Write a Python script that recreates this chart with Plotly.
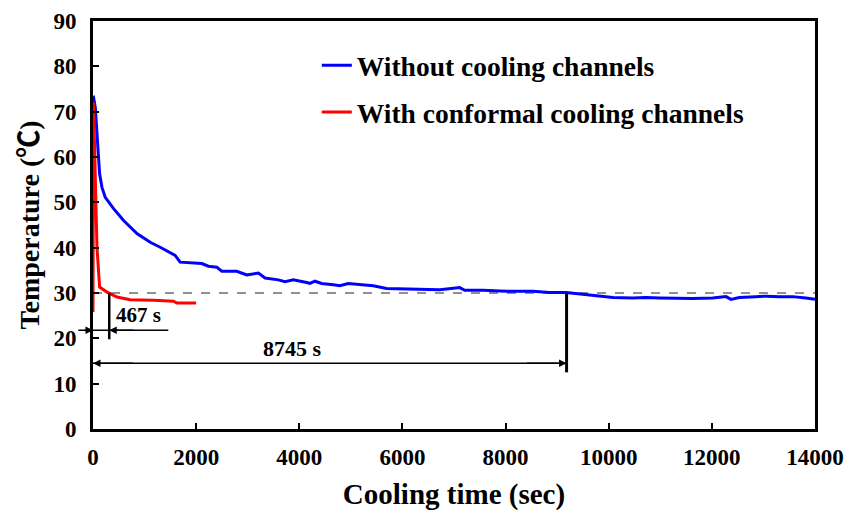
import plotly.graph_objects as go

# ---- data ----
t_without = [0, 12, 45, 89, 128, 174, 238, 399, 593, 852, 1109, 1303, 1593, 1690, 1948, 2110,
             2238, 2400, 2497, 2788, 2982, 3207, 3336, 3594, 3723, 3884, 4143, 4207, 4304, 4434,
             4659, 4788, 4949, 5175, 5433, 5692, 5950, 6337, 6724, 7111, 7208, 7563, 8015, 8531,
             8854, 9177, 9499, 9822, 10080, 10467, 10726, 10984, 11307, 11628, 12015, 12274,
             12371, 12532, 12855, 13049, 13307, 13565, 13823, 13952, 14000]
temp_without = [73.0, 73.1, 70.9, 62.1, 56.3, 53.3, 51.1, 48.6, 46.0, 43.1, 41.2, 40.1, 38.3, 36.8,
                36.6, 36.5, 35.9, 35.7, 34.8, 34.8, 34.0, 34.4, 33.3, 32.9, 32.5, 32.9, 32.3, 32.1,
                32.6, 32.1, 31.8, 31.6, 32.1, 31.8, 31.6, 31.0, 30.9, 30.7, 30.7, 31.2, 30.6, 30.6,
                30.4, 30.4, 30.1, 30.1, 29.7, 29.4, 29.0, 28.9, 29.0, 28.9, 28.8, 28.8, 28.9, 29.2,
                28.6, 29.0, 29.2, 29.3, 29.2, 29.2, 28.9, 28.6, 28.6]

t_with = [0, 10, 31, 77, 128, 271, 465, 722, 1173, 1561, 1626, 2000]
temp_with = [25.8, 72.0, 62.1, 40.1, 31.3, 30.2, 29.1, 28.5, 28.4, 28.2, 27.8, 27.8]

series_names = ["Without cooling channels", "With conformal cooling channels"]
series_colors = ["#0000FF", "#FF0000"]

x_range = [0, 14000]
y_range = [0, 90]
x_ticks = [0, 2000, 4000, 6000, 8000, 10000, 12000, 14000]
y_ticks = [0, 10, 20, 30, 40, 50, 60, 70, 80, 90]

ref_temp = 30           # dashed reference level
t_cross_with = 315      # where the conformal curve reaches 30 (drawn position)
t_cross_without = 9183  # where the plain curve reaches 30 (drawn position)
label_with = "467 s"
label_without = "8745 s"

FONT = "Liberation Serif, Times New Roman, serif"
CJK = "Noto Sans CJK SC"

fig = go.Figure()
fig.add_trace(go.Scatter(x=t_without, y=temp_without, mode="lines", name=series_names[0],
                         line=dict(color=series_colors[0], width=3), legendgroup="a"))
fig.add_trace(go.Scatter(x=t_with, y=temp_with, mode="lines", name=series_names[1],
                         line=dict(color=series_colors[1], width=3), legendgroup="b"))

# dashed 30 line
fig.add_shape(type="line", xref="x", yref="y", x0=x_range[0], x1=x_range[1], y0=ref_temp, y1=ref_temp,
              line=dict(color="#222222", width=1, dash="dash"), layer="below")

# vertical markers
fig.add_shape(type="line", xref="x", yref="y", x0=t_cross_with, x1=t_cross_with, y0=ref_temp, y1=19.8,
              line=dict(color="black", width=2.5))
fig.add_shape(type="line", xref="x", yref="y", x0=t_cross_without, x1=t_cross_without, y0=ref_temp, y1=12.5,
              line=dict(color="black", width=3))

span = x_range[1] - x_range[0]


def arrow_head(xh, y, xt):
    fig.add_annotation(x=xh, y=y, ax=xt, ay=y, xref="x", yref="y", axref="x", ayref="y",
                       text="", showarrow=True, arrowhead=2, arrowsize=1, arrowwidth=1.5,
                       arrowcolor="black", standoff=0, startstandoff=0)


# 467 s dimension: outside arrows (line continues past the axis, so paper coords)
y467 = 21.8
x467_left, x467_right = -285, 1460
fig.add_shape(type="line", xref="paper", yref="y", x0=x467_left / span, x1=x467_right / span,
              y0=y467, y1=y467, line=dict(color="black", width=1.5))
arrow_head(0, y467, -200)
arrow_head(t_cross_with, y467, t_cross_with + 500)
fig.add_annotation(x=877, y=25.1, xref="x", yref="y", text="<b>" + label_with + "</b>", showarrow=False,
                   font=dict(family=FONT, size=21, color="black"))

# 8745 s dimension
y8745 = 14.5
fig.add_shape(type="line", xref="x", yref="y", x0=0, x1=t_cross_without, y0=y8745, y1=y8745,
              line=dict(color="black", width=1.5))
arrow_head(0, y8745, 800)
arrow_head(t_cross_without, y8745, t_cross_without - 800)
fig.add_annotation(x=3868, y=17.8, xref="x", yref="y", text="<b>" + label_without + "</b>", showarrow=False,
                   font=dict(family=FONT, size=22, color="black"))

axis_common = dict(showline=True, linewidth=3, linecolor="black", mirror=True,
                   ticks="inside", ticklen=6, tickwidth=2, tickcolor="black",
                   showgrid=False, zeroline=False, automargin=False,
                   tickfont=dict(family=FONT, size=23, color="black", weight="bold"))

fig.update_xaxes(range=x_range, tickvals=x_ticks, ticktext=[str(v) for v in x_ticks],
                 ticklabelstandoff=5,
                 title=dict(text="<b>Cooling time (sec)</b>", font=dict(family=FONT, size=29, color="black"),
                            standoff=16),
                 **axis_common)
fig.update_yaxes(range=y_range, tickvals=y_ticks, ticktext=[str(v) for v in y_ticks],
                 ticklabelstandoff=9,
                 title=dict(text="<b>Temperature (<span style='font-family:" + CJK + "'>℃</span>)</b>",
                            font=dict(family=FONT, size=28, color="black"), standoff=6),
                 **axis_common)

fig.update_layout(
    width=856, height=514,
    margin=dict(l=93, r=41, t=21, b=85, autoexpand=False),
    plot_bgcolor="white", paper_bgcolor="white",
    showlegend=True,
    legend=dict(x=0.31, y=0.951, xanchor="left", yanchor="top", bgcolor="rgba(0,0,0,0)",
                font=dict(family=FONT, size=27.5, color="black", weight="bold"),
                tracegroupgap=8, itemwidth=30),
)

fig.write_html("out.html")
